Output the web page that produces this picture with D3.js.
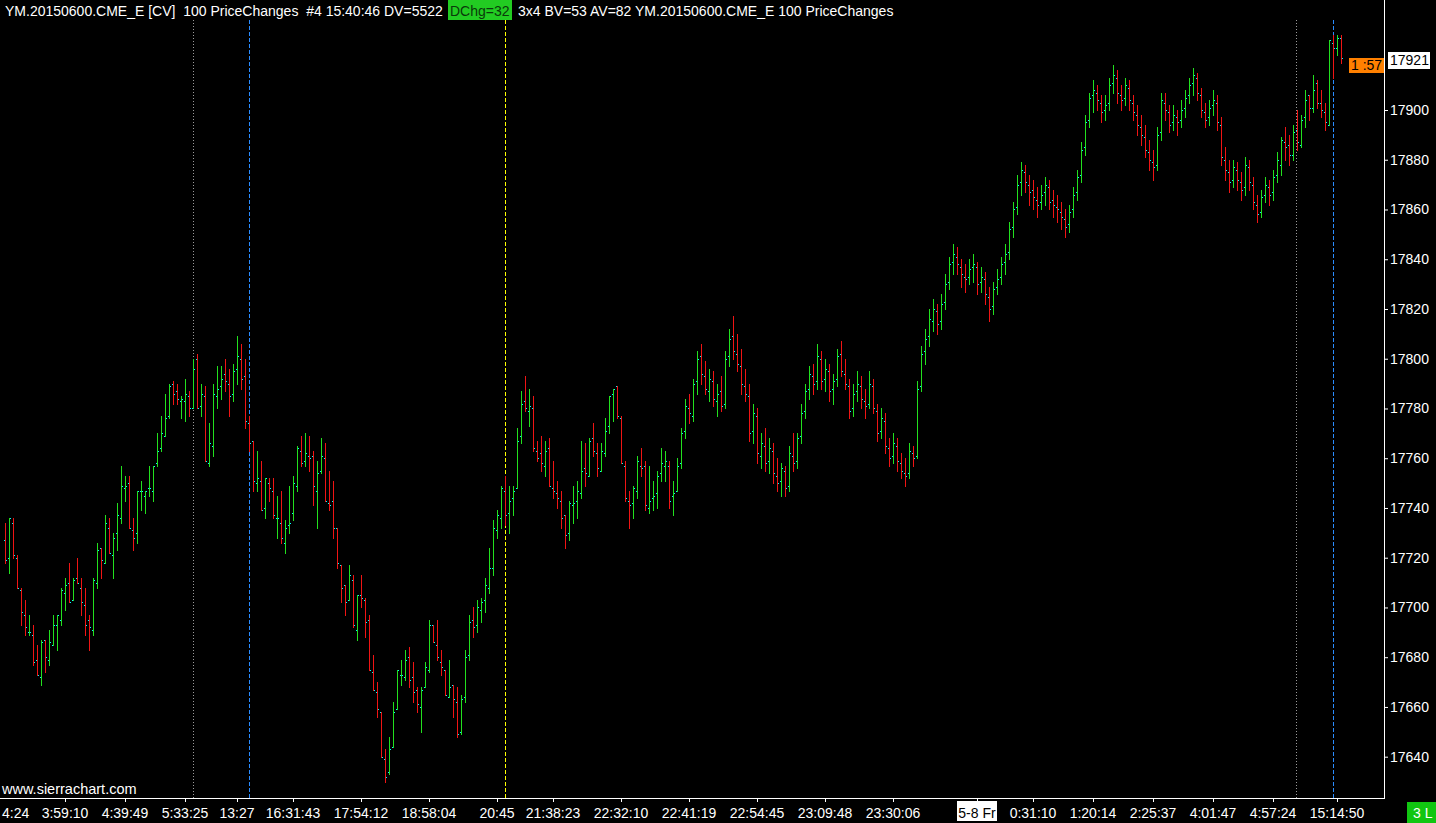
<!DOCTYPE html>
<html><head><meta charset="utf-8">
<script src="https://cdn.jsdelivr.net/npm/d3@7"></script>
<style>
html,body{margin:0;padding:0;background:#000;overflow:hidden}
svg{display:block;font-family:"Liberation Sans",Arial,sans-serif}
</style></head><body>
<div id="chart"></div>
<script>
// OHLC of each 100-price-change bar
const opens = [
 17727,17720,17734,17720,17707,17697,17690,17689,17679,17672,
 17687,17679,17685,17693,17695,17706,17710,17703,17712,17708,
 17701,17695,17691,17710,17724,17718,17732,17721,17730,17736,
 17748,17750,17731,17730,17747,17745,17748,17747,17758,17764,
 17769,17777,17790,17787,17783,17783,17785,17780,17800,17781,
 17785,17758,17765,17785,17789,17794,17790,17786,17796,17800,
 17793,17774,17767,17750,17751,17740,17750,17747,17736,17734,
 17726,17733,17738,17749,17763,17759,17761,17761,17747,17755,
 17760,17742,17743,17732,17717,17709,17703,17711,17691,17705,
 17703,17695,17674,17666,17658,17639,17634,17644,17659,17673,
 17672,17680,17672,17667,17660,17668,17675,17693,17685,17678,
 17675,17664,17669,17662,17650,17664,17681,17695,17693,17699,
 17703,17708,17716,17731,17736,17747,17738,17744,17748,17769,
 17783,17779,17780,17763,17762,17757,17764,17748,17746,17743,
 17737,17730,17741,17743,17746,17756,17753,17768,17762,17755,
 17762,17773,17786,17789,17776,17757,17743,17742,17747,17757,
 17757,17740,17744,17746,17754,17757,17757,17745,17747,17758,
 17771,17780,17777,17791,17801,17793,17787,17791,17783,17787,
 17782,17801,17809,17802,17797,17789,17785,17771,17777,17761,
 17765,17759,17763,17753,17751,17755,17749,17761,17759,17769,
 17779,17788,17793,17791,17800,17792,17795,17788,17792,17802,
 17794,17789,17780,17787,17789,17783,17782,17789,17779,17771,
 17775,17764,17761,17765,17758,17754,17754,17762,17761,17789,
 17803,17809,17815,17819,17815,17823,17831,17839,17841,17837,
 17833,17833,17837,17837,17831,17832,17825,17821,17829,17833,
 17839,17843,17853,17861,17871,17875,17870,17868,17864,17863,
 17867,17869,17864,17861,17859,17856,17854,17860,17867,17874,
 17885,17896,17906,17907,17903,17900,17903,17911,17913,17906,
 17905,17909,17903,17898,17893,17889,17883,17879,17878,17891,
 17903,17899,17895,17897,17896,17901,17906,17911,17913,17906,
 17899,17897,17902,17903,17894,17880,17875,17872,17876,17871,
 17869,17877,17870,17862,17859,17866,17869,17867,17874,17878,
 17887,17886,17882,17892,17886,17897,17906,17901,17911,17903,
 17899,17894,17927,17925,17929];
const highs = [
 17734,17736,17736,17721,17708,17703,17697,17693,17685,17687,
 17687,17691,17697,17697,17708,17712,17718,17712,17720,17712,
 17708,17697,17712,17726,17724,17737,17736,17730,17742,17757,
 17753,17753,17736,17747,17751,17747,17757,17757,17770,17777,
 17786,17790,17791,17790,17785,17792,17787,17800,17802,17790,
 17789,17774,17790,17797,17797,17800,17796,17798,17809,17806,
 17800,17777,17767,17763,17759,17752,17752,17752,17745,17747,
 17735,17749,17753,17765,17769,17770,17769,17763,17759,17768,
 17766,17755,17751,17732,17717,17709,17717,17713,17705,17713,
 17704,17697,17681,17670,17658,17643,17648,17662,17675,17679,
 17683,17684,17678,17668,17668,17678,17695,17693,17695,17683,
 17675,17679,17669,17668,17665,17683,17697,17700,17703,17704,
 17712,17724,17735,17739,17749,17753,17749,17749,17772,17787,
 17793,17788,17785,17767,17769,17767,17768,17759,17751,17747,
 17737,17743,17749,17751,17767,17766,17768,17774,17766,17766,
 17776,17785,17788,17789,17777,17759,17747,17749,17761,17764,
 17759,17757,17751,17755,17764,17763,17759,17751,17760,17772,
 17784,17786,17792,17803,17806,17799,17796,17795,17790,17793,
 17803,17812,17817,17810,17804,17796,17790,17782,17780,17770,
 17772,17768,17766,17760,17758,17757,17765,17770,17770,17782,
 17790,17797,17798,17806,17803,17800,17798,17794,17804,17807,
 17800,17792,17790,17795,17793,17788,17795,17792,17782,17780,
 17778,17768,17770,17768,17762,17760,17766,17765,17791,17805,
 17812,17820,17824,17822,17826,17834,17841,17846,17845,17840,
 17838,17840,17842,17839,17837,17835,17829,17831,17836,17841,
 17846,17855,17863,17874,17879,17878,17874,17872,17869,17870,
 17873,17872,17868,17866,17863,17860,17862,17869,17876,17887,
 17898,17907,17912,17910,17906,17906,17913,17918,17916,17910,
 17913,17912,17906,17902,17898,17894,17888,17884,17893,17907,
 17907,17902,17902,17900,17904,17908,17913,17917,17915,17909,
 17903,17904,17908,17906,17897,17885,17880,17880,17879,17875,
 17881,17880,17873,17866,17868,17873,17872,17876,17883,17889,
 17893,17890,17894,17900,17898,17908,17906,17914,17912,17908,
 17903,17928,17930,17930,17930];
const lows = [
 17718,17714,17720,17708,17693,17689,17689,17677,17673,17669,
 17674,17677,17685,17683,17693,17699,17702,17703,17710,17697,
 17689,17683,17689,17708,17712,17718,17722,17712,17723,17734,
 17743,17732,17723,17726,17739,17738,17745,17743,17757,17763,
 17769,17776,17782,17782,17776,17775,17777,17780,17780,17777,
 17759,17757,17761,17780,17784,17787,17777,17783,17790,17788,
 17772,17763,17747,17747,17739,17736,17743,17736,17728,17726,
 17722,17730,17735,17747,17757,17757,17755,17741,17732,17754,
 17743,17739,17728,17716,17702,17697,17703,17692,17687,17700,
 17688,17675,17667,17656,17640,17630,17633,17644,17659,17669,
 17671,17668,17662,17658,17650,17668,17674,17686,17679,17673,
 17665,17664,17656,17648,17649,17662,17679,17688,17690,17694,
 17698,17706,17713,17728,17732,17733,17730,17737,17748,17766,
 17779,17773,17763,17759,17755,17753,17749,17744,17740,17732,
 17724,17727,17734,17736,17744,17749,17753,17761,17753,17755,
 17761,17770,17775,17776,17758,17743,17732,17736,17744,17753,
 17739,17738,17739,17740,17751,17751,17740,17737,17747,17756,
 17768,17774,17775,17786,17790,17786,17783,17781,17777,17779,
 17780,17797,17800,17795,17786,17783,17767,17766,17758,17756,
 17755,17754,17750,17747,17745,17745,17747,17755,17756,17766,
 17776,17784,17786,17788,17788,17787,17783,17782,17789,17793,
 17788,17776,17777,17783,17780,17776,17780,17778,17767,17768,
 17762,17757,17758,17755,17752,17749,17752,17757,17760,17787,
 17798,17805,17811,17810,17812,17820,17828,17834,17834,17829,
 17827,17830,17831,17826,17827,17822,17815,17818,17826,17830,
 17834,17840,17849,17858,17866,17867,17862,17860,17857,17860,
 17862,17860,17857,17855,17852,17849,17851,17857,17864,17871,
 17882,17893,17899,17900,17895,17896,17900,17907,17903,17900,
 17902,17900,17896,17890,17886,17881,17876,17872,17876,17888,
 17896,17891,17892,17890,17893,17897,17903,17906,17904,17897,
 17893,17894,17898,17892,17878,17872,17867,17869,17868,17864,
 17866,17868,17860,17855,17857,17863,17862,17864,17871,17874,
 17880,17878,17880,17884,17885,17893,17896,17899,17901,17897,
 17892,17894,17913,17922,17919];
const closes = [
 17719,17736,17721,17708,17698,17692,17690,17678,17673,17686,
 17680,17686,17693,17697,17707,17709,17702,17711,17710,17702,
 17693,17692,17711,17723,17719,17734,17722,17728,17737,17749,
 17749,17732,17728,17747,17747,17747,17748,17757,17763,17770,
 17776,17789,17786,17784,17784,17786,17780,17796,17780,17786,
 17759,17766,17786,17788,17792,17791,17785,17795,17801,17792,
 17775,17766,17751,17752,17739,17752,17748,17737,17736,17728,
 17732,17734,17750,17764,17758,17762,17760,17749,17754,17761,
 17743,17741,17732,17718,17708,17702,17713,17693,17705,17704,
 17694,17675,17667,17659,17640,17632,17643,17658,17675,17673,
 17679,17671,17666,17661,17667,17676,17693,17686,17680,17676,
 17665,17668,17663,17649,17663,17680,17694,17692,17700,17702,
 17709,17716,17732,17737,17748,17737,17743,17747,17767,17782,
 17780,17781,17764,17760,17758,17763,17749,17747,17744,17736,
 17729,17742,17742,17747,17755,17754,17767,17763,17756,17763,
 17771,17785,17788,17777,17758,17744,17741,17748,17759,17756,
 17741,17743,17745,17753,17758,17759,17743,17746,17757,17770,
 17781,17778,17790,17800,17794,17788,17792,17784,17786,17781,
 17800,17808,17803,17798,17790,17786,17770,17778,17762,17766,
 17758,17764,17754,17750,17756,17748,17762,17758,17768,17778,
 17787,17794,17790,17801,17791,17796,17787,17791,17801,17795,
 17790,17779,17786,17790,17784,17781,17790,17780,17770,17776,
 17765,17760,17766,17759,17755,17753,17763,17760,17788,17802,
 17808,17816,17820,17814,17822,17830,17838,17842,17838,17834,
 17832,17836,17838,17830,17833,17826,17820,17828,17832,17838,
 17842,17852,17860,17870,17876,17871,17867,17865,17862,17866,
 17870,17863,17862,17860,17857,17853,17859,17866,17873,17884,
 17895,17905,17908,17904,17899,17902,17910,17914,17907,17904,
 17910,17904,17899,17894,17890,17884,17880,17877,17890,17904,
 17900,17894,17898,17895,17900,17905,17910,17914,17907,17900,
 17896,17901,17904,17895,17881,17876,17871,17877,17872,17868,
 17878,17871,17863,17858,17865,17870,17866,17873,17880,17888,
 17885,17882,17891,17887,17896,17904,17901,17908,17903,17900,
 17895,17928,17925,17929,17921];

const priceTicks = [17640,17660,17680,17700,17720,17740,17760,17780,17800,17820,17840,17860,17880,17900];
const lastPrice = closes[closes.length - 1];
const timerText = "1 :57";

// time labels on the x axis and the bar each one belongs to
const timeLabels = ["3:59:10","4:39:49","5:33:25","13:27","16:31:43","17:54:12","18:58:04","20:45",
  "21:38:23","22:32:10","22:41:19","22:54:45","23:09:48","23:30:06","5-8 Fr","0:31:10",
  "1:20:14","2:25:37","4:01:47","4:57:24","15:14:50"];
const timeLabelBars = [15,30,45,58,72,89,106,123,137,154,171,188,205,222,243,257,272,287,302,317,333];
const dateLabel = "5-8 Fr";

// session / day separator bars
const sessionBars = [47, 322.75];
const dayBars = [61, 332];
const yellowBars = [125];

const W = 1436, H = 823;
const plotRight = 1384, plotBottom = 798;

const svg = d3.select('#chart').append('svg')
  .attr('width', W).attr('height', H)
  .style('background', '#000');

const y = d3.scaleLinear().domain([17640, 17900]).range([756.7, 110]);
const x = d3.scaleLinear().domain([0, 1]).range([5, 9]);   // 4 px per bar

const up = '#22e01e', down = '#f01414', tickCol = '#00ffff';

// separators
function vline(bars, color, dash) {
  svg.append('g').selectAll('line').data(bars).join('line')
    .attr('x1', d => Math.round(x(d)) + 0.5).attr('x2', d => Math.round(x(d)) + 0.5)
    .attr('y1', 20).attr('y2', plotBottom)
    .attr('stroke', color).attr('stroke-width', 1).attr('stroke-dasharray', dash);
}
vline(sessionBars, '#9a9a9a', '1,2');
vline(dayBars, '#2a8cff', '4,2');
vline(yellowBars, '#ffff00', '4,2');

// bars
const idx = d3.range(closes.length);
const gb = svg.append('g').attr('shape-rendering', 'crispEdges');
gb.selectAll('rect.hl').data(idx).join('rect').attr('class', 'hl')
  .attr('x', i => Math.round(x(i)))
  .attr('y', i => Math.round(y(highs[i])))
  .attr('width', 1)
  .attr('height', i => Math.max(1, Math.round(y(lows[i])) - Math.round(y(highs[i])) + 1))
  .attr('fill', i => closes[i] >= opens[i] ? up : down);
gb.selectAll('rect.op').data(idx).join('rect').attr('class', 'op')
  .attr('x', i => Math.round(x(i)) - 1)
  .attr('y', i => Math.round(y(opens[i])))
  .attr('width', 1).attr('height', 1).attr('fill', tickCol);
gb.selectAll('rect.cl').data(idx).join('rect').attr('class', 'cl')
  .attr('x', i => Math.round(x(i)) + 1)
  .attr('y', i => Math.round(y(closes[i])))
  .attr('width', 1).attr('height', 1).attr('fill', tickCol);

// frame
svg.append('line').attr('x1', plotRight + 0.5).attr('x2', plotRight + 0.5).attr('y1', 0).attr('y2', plotBottom + 1)
  .attr('stroke', '#fff');
svg.append('line').attr('x1', 0).attr('x2', plotRight + 1).attr('y1', plotBottom + 0.5).attr('y2', plotBottom + 0.5)
  .attr('stroke', '#fff');

// price axis
const ya = svg.append('g').attr('transform', `translate(${plotRight + 1},0)`)
  .call(d3.axisRight(y).tickValues(priceTicks).tickSize(3).tickPadding(2).tickFormat(d3.format('d')));
ya.select('.domain').remove();
ya.selectAll('line').attr('stroke', '#fff');
ya.selectAll('text').attr('fill', '#fff').style('font-size', '14px').style('font-family', '"Liberation Sans",Arial,sans-serif');

// last price box
const lp = svg.append('g');
lp.append('rect').attr('x', 1388).attr('y', Math.round(y(lastPrice)) - 6).attr('width', 42).attr('height', 17).attr('fill', '#fff');
lp.append('text').attr('x', 1390).attr('y', Math.round(y(lastPrice)) + 7).attr('fill', '#000')
  .style('font-size', '14px').text(lastPrice);
// bar timer
svg.append('rect').attr('x', 1349).attr('y', 58).attr('width', 35).attr('height', 15).attr('fill', '#ff8000');
svg.append('text').attr('x', 1351).attr('y', 70).attr('fill', '#000').style('font-size', '14px').text(timerText);

// time axis
const xa = svg.append('g');
xa.selectAll('line').data(timeLabelBars).join('line')
  .attr('x1', d => Math.round(x(d)) + 0.5).attr('x2', d => Math.round(x(d)) + 0.5)
  .attr('y1', plotBottom).attr('y2', plotBottom + 4).attr('stroke', '#fff');
timeLabels.forEach((t, k) => {
  const cx = Math.round(x(timeLabelBars[k]));
  if (t === dateLabel) {
    xa.append('rect').attr('x', cx - 20).attr('y', 801).attr('width', 40).attr('height', 20).attr('fill', '#fff');
  }
  xa.append('text').attr('x', cx).attr('y', 818).attr('text-anchor', 'middle')
    .attr('fill', t === dateLabel ? '#000' : '#fff').style('font-size', '14px').text(t);
});
xa.append('text').attr('x', 2).attr('y', 818).attr('fill', '#fff').style('font-size', '14px').text('4:24');

// footer bits
svg.append('text').attr('x', 2).attr('y', 794).attr('fill', '#fff').style('font-size', '14.5px').text('www.sierrachart.com');
svg.append('rect').attr('x', 1407).attr('y', 802).attr('width', 29).attr('height', 21).attr('fill', '#11c611');
svg.append('text').attr('x', 1413).attr('y', 818).attr('fill', '#fff').style('font-size', '14px').text('3 L');

// header
svg.append('text').attr('x', 5).attr('y', 16).attr('fill', '#fff').style('font-size', '14px')
  .attr('xml:space', 'preserve').style('white-space', 'pre')
  .text('YM.20150600.CME_E [CV]  100 PriceChanges  #4 15:40:46 DV=5522');
svg.append('rect').attr('x', 448).attr('y', 0).attr('width', 64).attr('height', 20).attr('fill', '#22cc22');
svg.append('text').attr('x', 450).attr('y', 16).attr('fill', '#0a3a0a').style('font-size', '14px').text('DChg=32');
svg.append('text').attr('x', 518).attr('y', 16).attr('fill', '#fff').style('font-size', '14px')
  .text('3x4 BV=53 AV=82 YM.20150600.CME_E 100 PriceChanges');
</script>
</body></html>
